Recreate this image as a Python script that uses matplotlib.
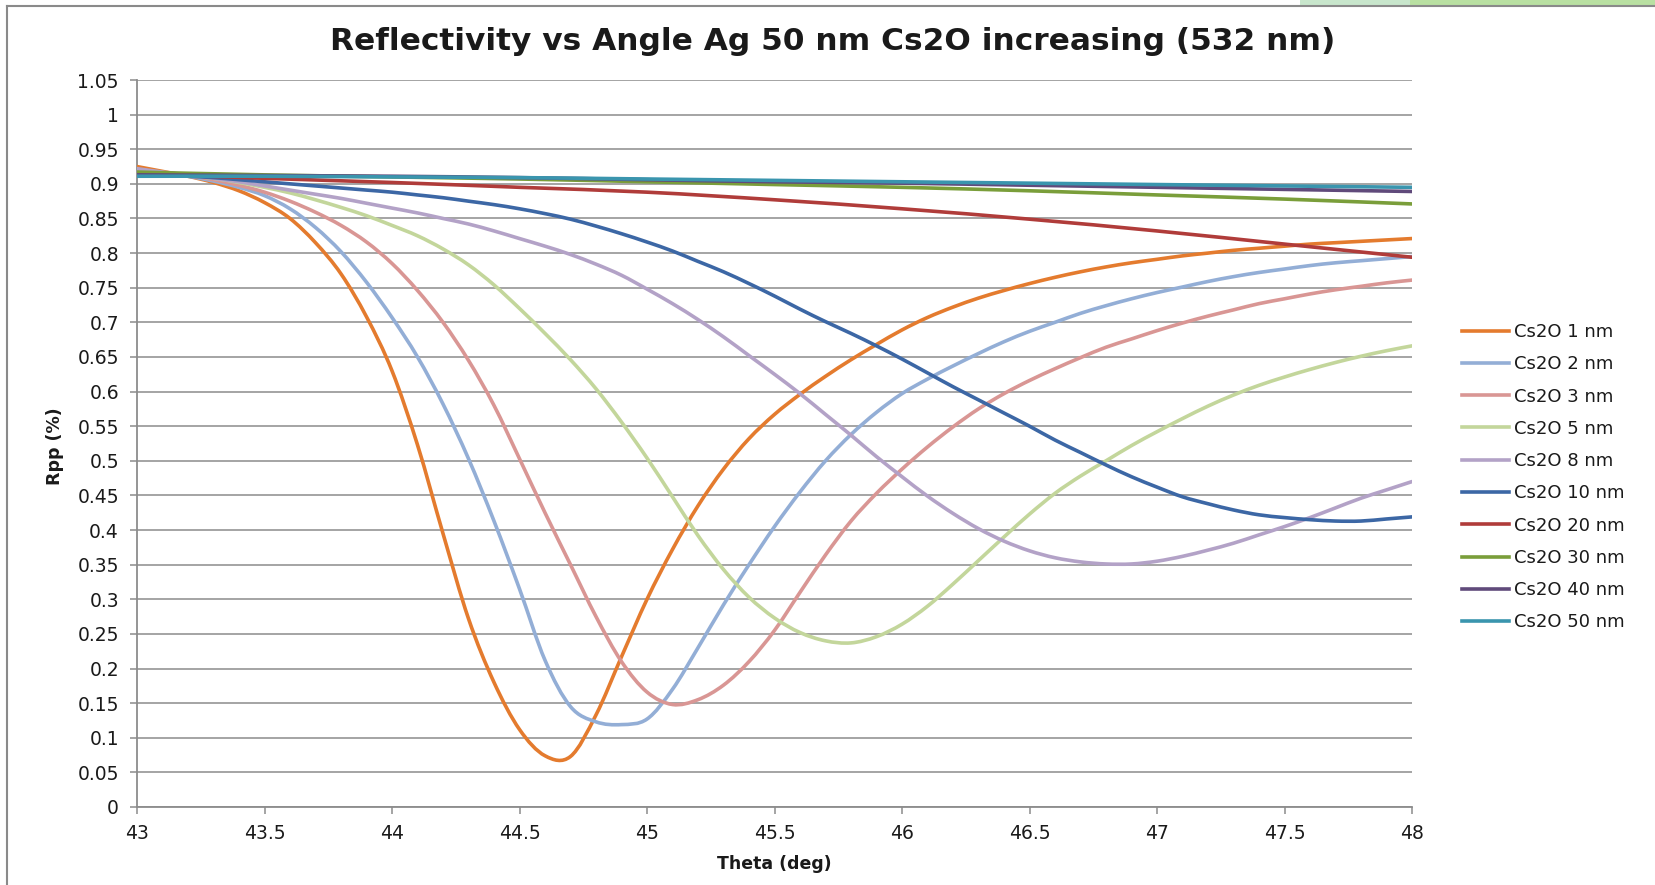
import matplotlib
matplotlib.use("Agg")
import matplotlib.pyplot as plt
import numpy as np
from matplotlib.path import Path
from matplotlib.patches import PathPatch, Rectangle
from matplotlib.lines import Line2D

# angle grids (deg)
theta_fine = [43.0, 43.1, 43.2, 43.3, 43.4, 43.5, 43.6, 43.7, 43.8, 43.9,
              44.0, 44.1, 44.2, 44.3, 44.4, 44.5, 44.6, 44.7, 44.8, 44.9,
              45.0, 45.1, 45.2, 45.3, 45.4, 45.5, 45.6, 45.7, 45.8, 45.9,
              46.0, 46.1, 46.2, 46.3, 46.4, 46.5, 46.6, 46.7, 46.8, 46.9,
              47.0, 47.1, 47.2, 47.3, 47.4, 47.5, 47.6, 47.7, 47.8, 47.9, 48.0]
theta_coarse = [43.0, 43.5, 44.0, 44.5, 45.0, 45.5, 46.0, 46.5, 47.0, 47.5, 48.0]

rpp_1nm = [0.925, 0.918, 0.911, 0.902, 0.890, 0.873, 0.850, 0.815, 0.770, 0.708,
           0.630, 0.523, 0.395, 0.272, 0.180, 0.112, 0.074, 0.073, 0.133, 0.217,
           0.300, 0.372, 0.435, 0.488, 0.532, 0.567, 0.596, 0.622, 0.646, 0.668,
           0.689, 0.707, 0.722, 0.735, 0.746, 0.756, 0.765, 0.773, 0.780, 0.786,
           0.791, 0.796, 0.800, 0.804, 0.807, 0.810, 0.813, 0.815, 0.817, 0.819, 0.821]
rpp_2nm = [0.918, 0.915, 0.911, 0.904, 0.895, 0.883, 0.864, 0.837, 0.802, 0.758,
           0.707, 0.650, 0.582, 0.503, 0.413, 0.315, 0.212, 0.145, 0.123, 0.119,
           0.127, 0.170, 0.230, 0.292, 0.350, 0.405, 0.455, 0.500, 0.538, 0.570,
           0.597, 0.618, 0.637, 0.655, 0.672, 0.687, 0.700, 0.713, 0.724, 0.734,
           0.743, 0.751, 0.759, 0.766, 0.772, 0.777, 0.782, 0.786, 0.789, 0.792, 0.795]
rpp_3nm = [0.921, 0.916, 0.912, 0.906, 0.898, 0.888, 0.875, 0.859, 0.840, 0.816,
           0.785, 0.746, 0.700, 0.645, 0.580, 0.503, 0.425, 0.350, 0.275, 0.210,
           0.166, 0.148, 0.155, 0.176, 0.210, 0.255, 0.310, 0.364, 0.413, 0.453,
           0.488, 0.520, 0.549, 0.575, 0.597, 0.616, 0.633, 0.649, 0.664, 0.676,
           0.688, 0.699, 0.709, 0.718, 0.727, 0.734, 0.741, 0.747, 0.752, 0.757, 0.761]
rpp_5nm = [0.915, 0.914, 0.912, 0.908, 0.902, 0.895, 0.887, 0.877, 0.866, 0.854,
           0.840, 0.825, 0.806, 0.783, 0.754, 0.720, 0.684, 0.646, 0.604, 0.556,
           0.504, 0.448, 0.392, 0.343, 0.303, 0.273, 0.252, 0.240, 0.237, 0.246,
           0.264, 0.290, 0.322, 0.356, 0.390, 0.423, 0.453, 0.478, 0.500, 0.522,
           0.542, 0.561, 0.579, 0.595, 0.609, 0.621, 0.632, 0.642, 0.651, 0.659, 0.666]
rpp_8nm = [0.922, 0.917, 0.913, 0.908, 0.903, 0.897, 0.891, 0.885, 0.879, 0.872,
           0.865, 0.858, 0.850, 0.842, 0.832, 0.821, 0.810, 0.798, 0.784, 0.768,
           0.748, 0.727, 0.704, 0.679, 0.652, 0.625, 0.597, 0.567, 0.537, 0.506,
           0.477, 0.449, 0.424, 0.402, 0.384, 0.370, 0.360, 0.354, 0.351, 0.351,
           0.355, 0.362, 0.371, 0.381, 0.393, 0.405, 0.418, 0.432, 0.446, 0.458, 0.470]
rpp_10nm = [0.915, 0.913, 0.911, 0.909, 0.906, 0.903, 0.900, 0.897, 0.894, 0.891,
            0.888, 0.884, 0.880, 0.875, 0.870, 0.864, 0.857, 0.849, 0.839, 0.828,
            0.816, 0.803, 0.788, 0.773, 0.756, 0.738, 0.719, 0.701, 0.684, 0.666,
            0.647, 0.627, 0.607, 0.588, 0.569, 0.550, 0.530, 0.512, 0.494, 0.477,
            0.462, 0.448, 0.438, 0.429, 0.422, 0.418, 0.415, 0.413, 0.413, 0.416, 0.419]
rpp_20nm = [0.915, 0.908, 0.902, 0.895, 0.888, 0.877, 0.864, 0.849, 0.832, 0.813, 0.794]
rpp_30nm = [0.917, 0.913, 0.910, 0.907, 0.903, 0.899, 0.895, 0.890, 0.884, 0.878, 0.871]
rpp_40nm = [0.913, 0.912, 0.911, 0.909, 0.906, 0.903, 0.901, 0.898, 0.895, 0.892, 0.889]
rpp_50nm = [0.911, 0.911, 0.910, 0.909, 0.907, 0.905, 0.903, 0.901, 0.899, 0.897, 0.895]

labels = ["Cs2O 1 nm", "Cs2O 2 nm", "Cs2O 3 nm", "Cs2O 5 nm", "Cs2O 8 nm",
          "Cs2O 10 nm", "Cs2O 20 nm", "Cs2O 30 nm", "Cs2O 40 nm", "Cs2O 50 nm"]
colors = ["#E47B2E", "#93AED6", "#D99694", "#C3D69B", "#B3A2C7",
          "#3C67A5", "#B03C3A", "#7A9E3A", "#604A7B", "#3A95AE"]

series = [(theta_fine, rpp_1nm), (theta_fine, rpp_2nm), (theta_fine, rpp_3nm),
          (theta_fine, rpp_5nm), (theta_fine, rpp_8nm), (theta_fine, rpp_10nm),
          (theta_coarse, rpp_20nm), (theta_coarse, rpp_30nm),
          (theta_coarse, rpp_40nm), (theta_coarse, rpp_50nm)]


def smooth_path(x, y):
    # excel style smoothed line: bezier segments, catmull-rom control points
    pts = np.column_stack([x, y])
    n = len(pts)
    verts = [pts[0]]
    codes = [Path.MOVETO]
    for i in range(n - 1):
        p0 = pts[i - 1] if i > 0 else pts[i]
        p1 = pts[i]
        p2 = pts[i + 1]
        p3 = pts[i + 2] if i + 2 < n else pts[i + 1]
        verts += [p1 + (p2 - p0) / 6, p2 - (p3 - p1) / 6, p2]
        codes += [Path.CURVE4] * 3
    return Path(verts, codes)


grid_col = "#8C8C8C"
txt_col = "#1a1a1a"

fig = plt.figure(figsize=(16.55, 8.85), dpi=100)
ax = fig.add_axes([137 / 1655, 1 - 807 / 885, (1412 - 137) / 1655, (807 - 80) / 885])

for (x, y), c in zip(series, colors):
    ax.add_patch(PathPatch(smooth_path(x, y), fill=False, edgecolor=c, lw=2.6,
                           capstyle="round", joinstyle="round", zorder=3))

ax.set_xlim(43, 48)
ax.set_ylim(0, 1.05)

yt = np.arange(0, 1.0501, 0.05)
ax.set_yticks(yt)
ax.set_yticklabels([f"{v:.2f}".rstrip("0").rstrip(".") for v in yt])
xt = np.arange(43, 48.01, 0.5)
ax.set_xticks(xt)
ax.set_xticklabels([f"{v:.1f}".rstrip("0").rstrip(".") for v in xt])

ax.yaxis.grid(True, color=grid_col, lw=1.1)
ax.set_axisbelow(True)
for s in ["top", "right"]:
    ax.spines[s].set_visible(False)
for s in ["left", "bottom"]:
    ax.spines[s].set_color(grid_col)
    ax.spines[s].set_linewidth(1.3)
ax.tick_params(axis="y", length=5, width=1.1, color=grid_col, pad=8,
               labelsize=13.5, labelcolor=txt_col)
ax.tick_params(axis="x", length=5, width=1.1, color=grid_col, pad=7,
               labelsize=13.5, labelcolor=txt_col)

ax.set_xlabel("Theta (deg)", fontsize=12.5, fontweight="bold", color=txt_col, labelpad=9)
fig.text(55 / 1655, 1 - 446 / 885, "Rpp (%)", rotation=90, ha="center", va="center",
         fontsize=12.5, fontweight="bold", color=txt_col)

fig.text(0.503, 1 - 42 / 885, "Reflectivity vs Angle Ag 50 nm Cs2O increasing (532 nm)",
         ha="center", va="center", fontsize=22.5, fontweight="bold", color=txt_col)

handles = [Line2D([], [], color=c, lw=2.6) for c in colors]
fig.legend(handles, labels, loc="upper left", bbox_to_anchor=(1462 / 1655, 1 - 323 / 885),
           frameon=False, fontsize=13, handlelength=2.6, handletextpad=0.3,
           labelspacing=0.79, borderpad=0, borderaxespad=0, labelcolor=txt_col)

# screenshot frame: grey border and green slide strip
fig.add_artist(Line2D([7 / 1655, 7 / 1655], [0, 1 - 6 / 885], transform=fig.transFigure,
                      color="#8A8A8A", lw=1.5))
fig.add_artist(Line2D([7 / 1655, 1], [1 - 6 / 885, 1 - 6 / 885], transform=fig.transFigure,
                      color="#8A8A8A", lw=1.5))
fig.add_artist(Rectangle((1300 / 1655, 1 - 5 / 885), 110 / 1655, 5 / 885,
                         transform=fig.transFigure, color="#C8E6CC", lw=0))
fig.add_artist(Rectangle((1410 / 1655, 1 - 5 / 885), 245 / 1655, 5 / 885,
                         transform=fig.transFigure, color="#B9E0A2", lw=0))

fig.savefig("out.png", dpi=100)
